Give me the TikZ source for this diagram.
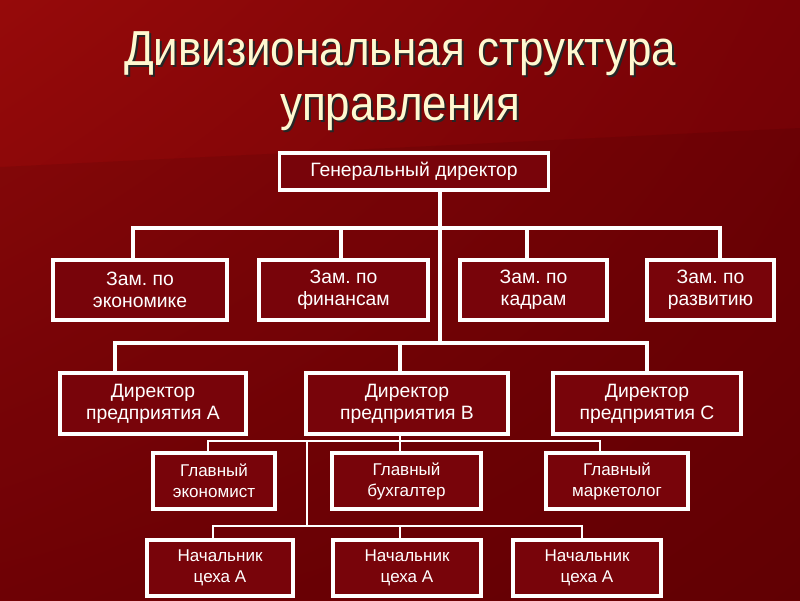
\documentclass[tikz,border=0pt]{standalone}
\usepackage{fontspec}
\setmainfont{Liberation Sans}
\usetikzlibrary{calc,shadings}
\definecolor{bgtop}{RGB}{150,10,10}
\definecolor{bgmid}{RGB}{120,2,6}
\definecolor{bgbot}{RGB}{106,0,4}
\definecolor{boxred}{RGB}{120,4,10}
\definecolor{titlecol}{RGB}{255,248,208}
\newcommand{\tallsize}[1]{\scalebox{1}[1.12]{#1}}

\begin{document}
\frenchspacing
\begin{tikzpicture}[x=0.02cm,y=-0.02cm,
	box/.style={draw=white,line width=1.9pt,fill=boxred,text=white,align=center,inner sep=0pt,font=\fontsize{11}{12.7}\selectfont},
	smallbox/.style={box,font=\fontsize{9.7}{11.9}\selectfont},
	link/.style={draw=white,line width=1.9pt},
	thinlink/.style={draw=white,line width=0.6pt},
	titletext/.style={anchor=base,inner sep=0pt,font=\fontsize{25}{30}\selectfont}]
	%BACKGROUND
	\useasboundingbox (0,0) rectangle (800,600);
	\shade[upper left=bgtop,upper right=bgmid,lower left=bgmid,lower right=bgbot] (0,0) rectangle (800,600);
	\fill[black,opacity=0.08] (0,167) -- (800,128) -- (800,600) -- (0,600) -- cycle;
	
	%TITLE
	\node[titletext,text=black!85] (t1s) at (402,67) {\tallsize{Дивизиональная структура}};
	\node[titletext,text=titlecol] (t1) at (400,65) {\tallsize{Дивизиональная структура}};
	\node[titletext,text=black!85] (t2s) at (402,122) {\tallsize{управления}};
	\node[titletext,text=titlecol] (t2) at (400,120) {\tallsize{управления}};
	
	%BOXES
	\node[box,minimum width=5.38cm,minimum height=0.74cm] (gd) at (414,171.5) {Генеральный директор};
	
	\node[box,minimum width=3.48cm,minimum height=1.2cm] (z1) at (140,290) {Зам. по\\экономике};
	\node[box,minimum width=3.38cm,minimum height=1.2cm] (z2) at (343.5,290) {Зам. по\\финансам};
	\node[box,minimum width=2.94cm,minimum height=1.2cm] (z3) at (533.5,290) {Зам. по\\кадрам};
	\node[box,minimum width=2.54cm,minimum height=1.2cm] (z4) at (710.5,290) {Зам. по\\развитию};
	
	\node[box,minimum width=3.72cm,minimum height=1.22cm] (da) at (153,403.5) {Директор\\предприятия А};
	\node[box,minimum width=4.04cm,minimum height=1.22cm] (db) at (407,403.5) {Директор\\предприятия В};
	\node[box,minimum width=3.76cm,minimum height=1.22cm] (dc) at (647,403.5) {Директор\\предприятия С};
	
	\node[smallbox,minimum width=2.44cm,minimum height=1.12cm] (g1) at (214,481) {Главный\\экономист};
	\node[smallbox,minimum width=2.98cm,minimum height=1.12cm] (g2) at (406.5,481) {Главный\\бухгалтер};
	\node[smallbox,minimum width=2.84cm,minimum height=1.12cm] (g3) at (617,481) {Главный\\маркетолог};
	
	\node[smallbox,minimum width=2.92cm,minimum height=1.12cm] (n1) at (220,568) {Начальник\\цеха А};
	\node[smallbox,minimum width=2.96cm,minimum height=1.12cm] (n2) at (407,568) {Начальник\\цеха А};
	\node[smallbox,minimum width=2.96cm,minimum height=1.12cm] (n3) at (587,568) {Начальник\\цеха А};
	
	%LINKS
	\coordinate (b1) at (440,228);
	\coordinate (b2) at (440,343);
	\draw[link] ($(gd.south)+(26,0)$) -- (b2);
	\draw[link] ($(z1.north)+(-7,0)$) |- (b1) -| ($(z4.north)+(9.5,0)$);
	\draw[link] ($(z2.north)+(-2.5,0)$) |- (b1);
	\draw[link] ($(z3.north)+(-6.5,0)$) |- (b1);
	\draw[link] ($(da.north)+(-38,0)$) |- (b2) -| (dc.north);
	\draw[link] ($(db.north)+(-7,0)$) |- (b2);
	
	%THIN LINKS
	\coordinate (b3) at (400,441);
	\coordinate (b4) at (307,526);
	\draw[thinlink] ($(db.south)+(-7,0)$) -- (b3);
	\draw[thinlink] ($(g1.north)+(-6,0)$) |- (b3) -| ($(g3.north)+(-17,0)$);
	\draw[thinlink] ($(g2.north)+(-6.5,0)$) |- (b3);
	\draw[thinlink] (b3 -| b4) -- (b4);
	\draw[thinlink] ($(n1.north)+(-7,0)$) |- (b4) -| ($(n3.north)+(-5,0)$);
	\draw[thinlink] ($(n2.north)+(-7,0)$) |- (b4);
\end{tikzpicture}
\end{document}
